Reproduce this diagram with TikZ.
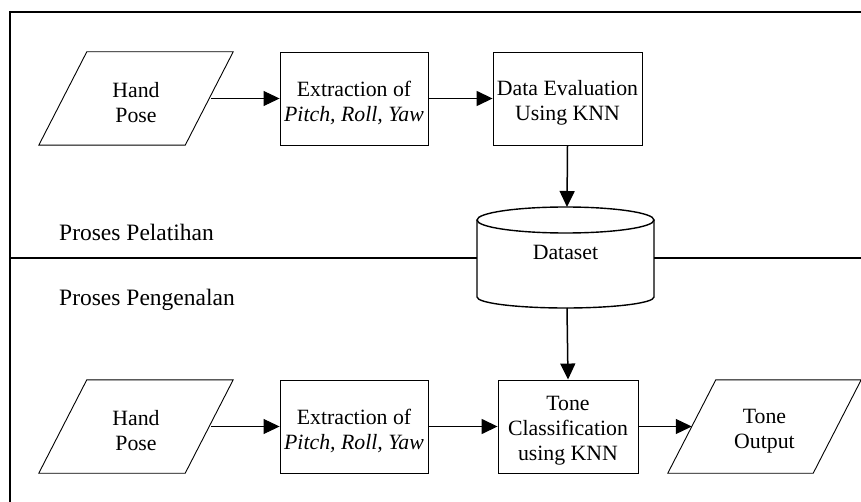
\documentclass[tikz,border=0pt]{standalone}
\usepackage{fontspec}
\setmainfont{Liberation Serif}
\usetikzlibrary{arrows.meta}
\begin{document}
\begin{tikzpicture}[x=1pt,y=-1pt,
  every node/.style={font=\fontsize{21.8}{25}\selectfont, align=center, inner sep=0pt},
  lbl/.style={font=\fontsize{23.5}{27}\selectfont, anchor=west},
  txt/.style={label={[align=center, yshift=-4.5pt]center:{#1}}},
  outline/.style={line width=0.9pt},
  procbox/.style={draw, outline, minimum width=148pt, minimum height=93pt},
  iobox/.style={minimum width=146pt, minimum height=93pt},
  flow/.style={line width=1.5pt, -{Triangle[length=16pt,width=15pt]}},
  thinflow/.style={flow, line width=1pt},
  frame/.style={line width=2.2pt},
  cyl/.style={line width=1.4pt}]
\useasboundingbox (0,0) rectangle (861,502);
% frame
\draw[frame] (10,12) -- (861,12);
\draw[frame] (10,11) -- (10,502);
\draw[frame] (10,258) -- (477,258);
\draw[frame] (654,258) -- (861,258);
% labels
\node[lbl] (lab1) at (59,232) {Proses Pelatihan};
\node[lbl] (lab2) at (59,300) {Proses Pengenalan};
% top row
\node[iobox, txt={Hand\\Pose}] (hp1) at (136,98.5) {\strut};
\draw[outline] ([xshift=24pt]hp1.north west) -- ([xshift=24pt]hp1.north east) -- ([xshift=-24pt]hp1.south east) -- ([xshift=-24pt]hp1.south west) -- cycle;
\node[procbox, txt={Extraction of\\\textit{Pitch, Roll, Yaw}}] (ex1) at (354,98.5) {\strut};
\node[procbox, minimum width=149pt, txt={Data Evaluation\\Using KNN}] (de) at (567.5,98.5) {\strut};
% dataset cylinder
\draw[cyl] (477,220) -- (477,297) arc[start angle=180, end angle=0, x radius=88.5, y radius=11] -- (654,220);
\draw[cyl] (565.5,220) ellipse [x radius=88.5, y radius=13];
\node (ds) at (565.5,252) {Dataset};
\coordinate (cyltop) at (567,207);
\coordinate (cylbot) at (567,308);
% bottom row
\node[iobox, txt={Hand\\Pose}] (hp2) at (136,426.5) {\strut};
\draw[outline] ([xshift=24pt]hp2.north west) -- ([xshift=24pt]hp2.north east) -- ([xshift=-24pt]hp2.south east) -- ([xshift=-24pt]hp2.south west) -- cycle;
\node[procbox, txt={Extraction of\\\textit{Pitch, Roll, Yaw}}] (ex2) at (354,426.5) {\strut};
\node[procbox, minimum width=140pt, txt={Tone\\Classification\\using KNN}] (tc) at (568,426.5) {\strut};
\node[iobox, minimum width=145pt, txt={Tone\\Output}] (to) at (764.5,426.5) {\strut};
\draw[outline] ([xshift=24pt]to.north west) -- ([xshift=24pt]to.north east) -- ([xshift=-24pt]to.south east) -- ([xshift=-24pt]to.south west) -- cycle;
% connectors
\draw[thinflow] ([xshift=2pt]hp1.east) -- (ex1.west);
\draw[flow] (ex1.east) -- (de.west);
\draw[flow] (de.south) -- (cyltop);
\draw[flow] (cylbot) -- (tc.north);
\draw[thinflow] ([xshift=2pt]hp2.east) -- (ex2.west);
\draw[flow] (ex2.east) -- (tc.west);
\draw[thinflow] (tc.east) -- (to.west);
\end{tikzpicture}
\end{document}
